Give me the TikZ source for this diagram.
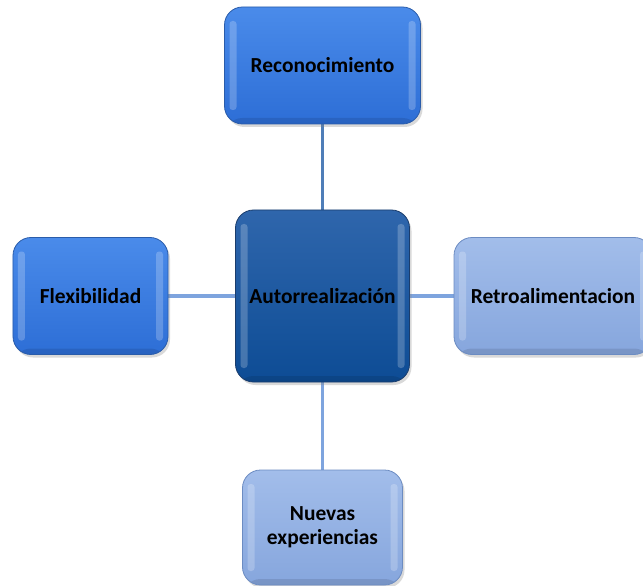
\documentclass[tikz,border=0pt]{standalone}
\usepackage{fontspec}
\setmainfont{Carlito}
\usetikzlibrary{backgrounds,shadows}
\definecolor{midA}{HTML}{4A8BEA}
\definecolor{midB}{HTML}{2D6ED6}
\definecolor{midE}{HTML}{2A5CAA}
\definecolor{darkA}{HTML}{2F66AC}
\definecolor{darkB}{HTML}{0D4C95}
\definecolor{darkE}{HTML}{1B3D6C}
\definecolor{lightA}{HTML}{A2BDEA}
\definecolor{lightB}{HTML}{86A6DD}
\definecolor{lightE}{HTML}{6C8CC2}
\definecolor{linkDark}{HTML}{4F7EB8}
\definecolor{linkLight}{HTML}{7EA4DE}
\tikzset{
  bevelbox/.style n args={3}{
    rounded corners=18bp, draw=#3, line width=0.8bp,
    top color=#1, bottom color=#2,
    drop shadow={shadow xshift=2bp, shadow yshift=-3bp, opacity=0.3},
    font=\fontsize{21.5}{24}\selectfont\bfseries, text=black, align=center,
    inner sep=0pt,
    path picture={
      \fill[white, opacity=0.22, rounded corners=3bp]
        ([xshift=5bp, yshift=-14bp]path picture bounding box.north west)
        rectangle ([xshift=12bp, yshift=14bp]path picture bounding box.south west);
      \fill[white, opacity=0.22, rounded corners=3bp]
        ([xshift=-5bp, yshift=-14bp]path picture bounding box.north east)
        rectangle ([xshift=-12bp, yshift=14bp]path picture bounding box.south east);
      \fill[black, opacity=0.10]
        ([yshift=6bp]path picture bounding box.south west)
        rectangle (path picture bounding box.south east);
    }
  },
  midbox/.style={bevelbox={midA}{midB}{midE}},
  darkbox/.style={bevelbox={darkA}{darkB}{darkE}},
  lightbox/.style={bevelbox={lightA}{lightB}{lightE}},
  link/.style={line width=3.5bp}
}
\begin{document}
\begin{tikzpicture}[x=1bp, y=-1bp]
  \useasboundingbox (0,0) rectangle (643,586);
  % outer boxes
  \node[midbox, minimum width=196bp, minimum height=117bp] (rec) at (322.5,65.5) {Reconocimiento};
  \node[midbox, minimum width=155bp, minimum height=117bp] (flex) at (90.5,296) {Flexibilidad};
  \node[lightbox, minimum width=198bp, minimum height=117bp] (retro) at (553,296) {Retroalimentacion};
  \node[lightbox, minimum width=160bp, minimum height=115bp] (nuev) at (322.5,527.5) {Nuevas\\experiencias};
  % central box
  \node[darkbox, minimum width=174bp, minimum height=172bp] (cen) at (322.5,296) {Autorrealización};
  % connectors behind the boxes
  \begin{scope}[on background layer]
    \draw[link, linkDark] (rec) -- (cen);
    \draw[link, linkLight] (flex) -- (cen);
    \draw[link, linkLight] (cen) -- (retro);
    \draw[link, linkLight] (cen) -- (nuev);
  \end{scope}
\end{tikzpicture}
\end{document}
